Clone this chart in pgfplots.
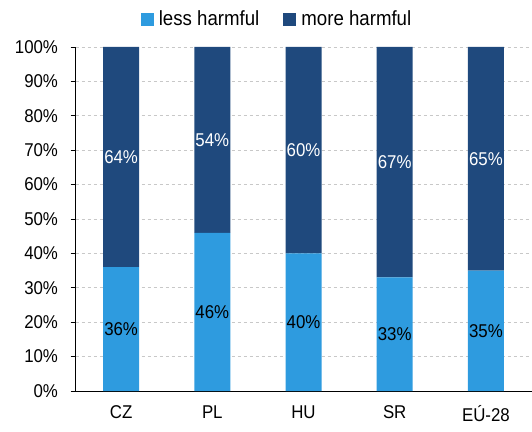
\documentclass[border=0pt]{standalone}
\usepackage{pgfplots}
\pgfplotsset{compat=1.18}
\usepackage{fontspec}
\setmainfont{Liberation Sans}[FakeStretch=0.91]
\definecolor{lightb}{HTML}{2E9BDF}
\definecolor{darkb}{HTML}{1F497D}
\definecolor{gridc}{HTML}{C8C8C8}
\begin{document}
\begin{tikzpicture}
\pgfplotsset{
  common/.style={
    scale only axis, width=456pt, height=344pt,
    xmin=-0.5, xmax=4.5, ymin=0, ymax=100,
  }
}
\begin{axis}[common,
  ybar stacked, bar width=36pt,
  axis x line*=bottom, axis y line*=left,
  axis line style={black, line width=0.8pt},
  xtick={0,1,2,3,4},
  xticklabels={CZ,PL,HU,SR,EÚ-28},
  x tick style={draw=none},
  ytick={0,10,...,100},
  yticklabel={\pgfmathprintnumber{\tick}\%},
  /pgf/number format/assume math mode=true,
  tick align=outside, major tick length=5pt,
  y tick style={black, line width=0.8pt},
  ymajorgrids, grid style={gridc, dashed, line width=0.7pt},
  ticklabel style={font=\fontsize{18.5}{20}\selectfont},
  xticklabel style={yshift=-6pt},
  yticklabel style={xshift=-9pt},
  legend style={at={(0.442,1.081)}, anchor=center, draw=none, fill=none,
    legend columns=2, font=\fontsize{20.5}{22}\selectfont,
    /tikz/every even column/.append style={column sep=22pt},
    /tikz/every odd column/.append style={column sep=3pt},
    inner sep=0pt},
  legend image code/.code={\fill[#1] (0pt,-6.5pt) rectangle (13pt,6.5pt);},
]
\addplot[fill=lightb, draw=none] coordinates {(0,36) (1,46) (2,40) (3,33) (4,35)};
\addplot[fill=darkb, draw=none] coordinates {(0,64) (1,54) (2,60) (3,67) (4,65)};
\legend{less harmful, more harmful}
\end{axis}
\begin{axis}[common, hide axis]
\addplot[draw=none, mark=none, nodes near coords, point meta=explicit symbolic,
  every node near coord/.append style={anchor=center, black, font=\fontsize{18.5}{20}\selectfont}]
  coordinates {(0,18) [36\%] (1,23) [46\%] (2,20) [40\%] (3,16.5) [33\%] (4,17.5) [35\%]};
\addplot[draw=none, mark=none, nodes near coords, point meta=explicit symbolic,
  every node near coord/.append style={anchor=center, white, font=\fontsize{18.5}{20}\selectfont}]
  coordinates {(0,68) [64\%] (1,73) [54\%] (2,70) [60\%] (3,66.5) [67\%] (4,67.5) [65\%]};
\end{axis}
\path (current axis.south west) ++(-75.5pt,-40pt) rectangle ++(532pt,431pt);
\end{tikzpicture}
\end{document}
